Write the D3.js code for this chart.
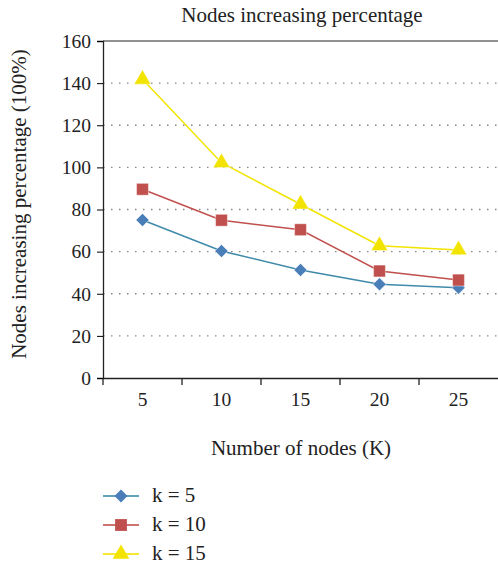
<!DOCTYPE html>
<html>
<head>
<meta charset="utf-8">
<script src="https://cdn.jsdelivr.net/npm/d3@7"></script>
<style>
  body { margin: 0; background: #fff; }
</style>
</head>
<body>
<div id="chart"></div>
<script>
// data
var nodes = ["5", "10", "15", "20", "25"]
var k5  = [75.0, 60.3, 51.3, 44.5, 42.9]
var k10 = [89.6, 74.9, 70.4, 50.8, 46.5]
var k15 = [141.8, 102.2, 82.5, 62.8, 60.8]
var yTicks = [0, 20, 40, 60, 80, 100, 120, 140, 160]

var serif = "'Liberation Serif', 'DejaVu Serif', serif"

var series = [
  {name: "k = 5",  values: k5,  line: "#3f8aab", fill: "#4a7eb8", shape: d3.symbolSquare, size: 85, rot: 45},
  {name: "k = 10", values: k10, line: "#c0504d", fill: "#c0504d", shape: d3.symbolSquare, size: 140, rot: 0},
  {name: "k = 15", values: k15, line: "#f2e400", fill: "#f2e400", shape: d3.symbolTriangle, size: 120, rot: 0}
]

var margin = {top: 41, right: 0, bottom: 191, left: 103},
    width = 498 - margin.left - margin.right,
    height = 569 - margin.top - margin.bottom;

var svg = d3.select("#chart")
  .append("svg")
    .attr("width", 498)
    .attr("height", 569)
    .style("font-family", serif)

var g = svg.append("g")
    .attr("transform", "translate(" + margin.left + "," + margin.top + ")");

var x = d3.scaleBand()
  .domain(nodes)
  .range([0, width])

var y = d3.scaleLinear()
  .domain([0, 160])
  .range([height, 0])

// dotted grid
g.selectAll(".grid")
  .data(yTicks.filter(function(d){ return d > 0 && d < 160 }))
  .enter()
  .append("line")
    .attr("x1", 0)
    .attr("x2", width)
    .attr("y1", function(d){ return y(d) })
    .attr("y2", function(d){ return y(d) })
    .style("stroke", "#888")
    .style("stroke-width", 1.3)
    .style("stroke-dasharray", "1.5,6.5")

// top border
g.append("line")
  .attr("x1", 0).attr("x2", width)
  .attr("y1", y(160)).attr("y2", y(160))
  .style("stroke", "#222")

// axes
var yAxis = g.append("g")
  .call(d3.axisLeft(y).tickValues(yTicks).tickSize(6).tickPadding(6))
yAxis.attr("font-family", serif)
yAxis.select(".domain").attr("stroke", "#222").attr("stroke-width", 1.3)
yAxis.selectAll("text")
  .style("font-family", serif)
  .style("font-size", "19.5px")
  .style("fill", "#222")

var xAxis = g.append("g")
  .attr("transform", "translate(0," + height + ")")
  .call(d3.axisBottom(x).tickSize(0).tickPadding(14))
xAxis.attr("font-family", serif)
xAxis.select(".domain").attr("stroke", "#222").attr("stroke-width", 1.3)
xAxis.selectAll("text")
  .style("font-family", serif)
  .style("font-size", "19.5px")
  .style("fill", "#222")

// tick marks at band edges
xAxis.selectAll(".edge")
  .data(nodes)
  .enter()
  .append("line")
    .attr("x1", function(d){ return x(d) })
    .attr("x2", function(d){ return x(d) })
    .attr("y1", 0)
    .attr("y2", 7)
    .style("stroke", "#222")
    .style("stroke-width", 1.3)

var cx = function(i){ return x(nodes[i]) + x.bandwidth() / 2 }

// lines + markers
series.forEach(function(s){
  g.append("path")
    .datum(s.values)
    .attr("d", d3.line()
      .x(function(d, i){ return cx(i) })
      .y(function(d){ return y(d) }))
    .style("fill", "none")
    .style("stroke", s.line)
    .style("stroke-width", 1.5)

  g.append("g").selectAll("path")
    .data(s.values)
    .enter()
    .append("path")
      .attr("d", d3.symbol().type(s.shape).size(s.size))
      .attr("transform", function(d, i){ return "translate(" + cx(i) + "," + y(d) + ") rotate(" + s.rot + ")" })
      .style("fill", s.fill)
      .style("stroke", "#fff")
      .style("stroke-opacity", 0.5)
      .style("stroke-width", 0.8)
})

// title and axis labels
svg.append("text")
  .attr("x", 302)
  .attr("y", 22)
  .attr("text-anchor", "middle")
  .style("font-size", "21px")
  .style("fill", "#222")
  .text("Nodes increasing percentage")

svg.append("text")
  .attr("transform", "translate(26,204) rotate(-90)")
  .attr("text-anchor", "middle")
  .style("font-size", "21px")
  .style("fill", "#222")
  .text("Nodes increasing percentage (100%)")

svg.append("text")
  .attr("x", 301)
  .attr("y", 455)
  .attr("text-anchor", "middle")
  .style("font-size", "21px")
  .style("fill", "#222")
  .text("Number of nodes (K)")

// legend
var legend = svg.append("g")
  .attr("transform", "translate(103,496)")

series.forEach(function(s, i){
  var row = legend.append("g").attr("transform", "translate(0," + (i * 29) + ")")
  row.append("line")
    .attr("x1", 0).attr("x2", 36)
    .style("stroke", s.line)
    .style("stroke-opacity", 0.8)
    .style("stroke-width", 1.8)
  row.append("path")
    .attr("d", d3.symbol().type(s.shape).size(s.size))
    .attr("transform", "translate(18,0) rotate(" + s.rot + ")")
    .style("fill", s.fill)
  row.append("text")
    .attr("x", 49)
    .attr("y", 6)
    .style("font-size", "21px")
    .style("fill", "#222")
    .text(s.name)
})
</script>
</body>
</html>
